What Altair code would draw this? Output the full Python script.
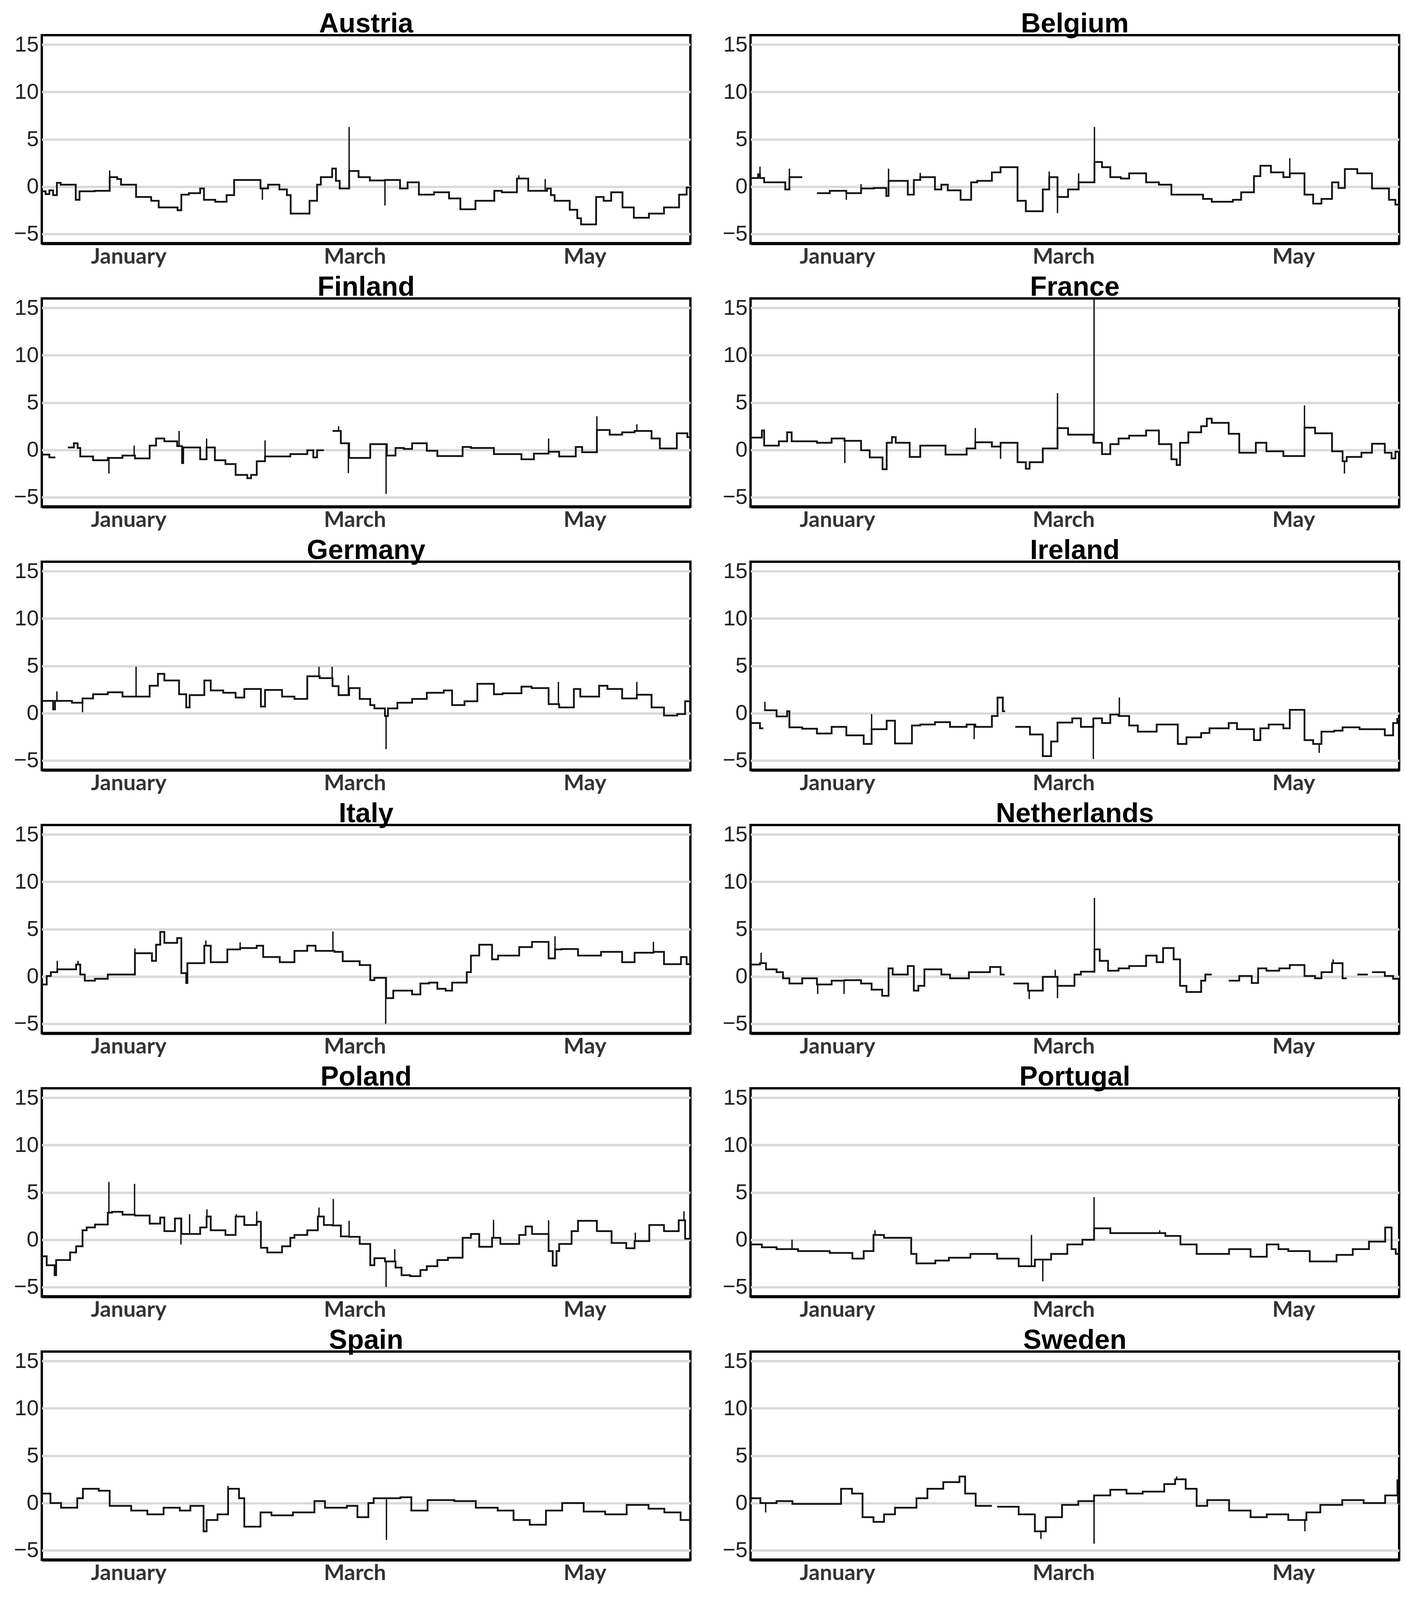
import altair as alt
import pandas as pd

BASE = pd.Timestamp("2019-12-09")
END_DAY = 172
COUNTRIES = ["Austria", "Belgium", "Finland", "France", "Germany", "Ireland",
             "Italy", "Netherlands", "Poland", "Portugal", "Spain", "Sweden"]
TICK_LABEL_DATES = [(2020, 1, 1), (2020, 3, 1), (2020, 5, 1)]
Y_TICKS = [-5, 0, 5, 10, 15]

# ---- Austria
AUSTRIA_DAYS = [0, 1, 2, 3, 4, 5, 9, 10, 14, 18, 20, 21, 25, 29, 31, 36, 37, 39, 42, 43, 46, 49, 51, 58,
                60, 63, 65, 66, 71, 73, 74, 77, 78, 79, 81.5, 84, 87, 91, 95, 97, 100, 104, 108, 111, 115,
                120, 122, 126, 129, 134, 135, 136, 140, 142, 143, 147, 149, 151, 154, 157, 161, 165, 169, 171]
AUSTRIA_VALS = [-0.5, -0.8, -0.4, -0.9, 0.4, 0.2, -1.4, -0.5, -0.45, 1.0, 0.8, 0.2, -1.1, -1.5, -2.2, -2.5,
                -0.85, -0.7, -0.2, -1.4, -1.6, -0.9, 0.7, -0.2, 0.2, -0.3, -0.9, -2.85, -1.5, 0.2, 1.0, 1.9,
                0.6, -0.2, 1.65, 1.0, 0.65, 0.7, -0.2, 0.45, -0.85, -0.6, -1.25, -2.4, -1.5, -0.45, -0.6,
                0.85, -0.45, -0.2, -0.9, -1.5, -2.45, -3.35, -4.0, -1.1, -1.5, -0.6, -2.2, -3.3, -2.85,
                -2.2, -0.85, -0.1]
AUSTRIA_SPIKE_DAYS = [18, 58.5, 81.5, 91, 126.5, 133.5]
AUSTRIA_SPIKE_VALS = [1.7, -1.4, 6.3, -2.0, 1.2, 0.8]

# ---- Belgium
BELGIUM_DAYS = [0, 2, 2.5, 3.6, 9.2, 10.3, 13.7, 17.6, 21, 25.4, 29.3, 32.7, 36, 36.6, 41.7, 43.3, 45, 48.9,
                50.6, 52.3, 55.7, 58.5, 60.1, 64, 66.3, 70.8, 73, 77.5, 79.2, 81.4, 84.2, 87, 91.2, 93.2,
                95.4, 98.2, 100.4, 104.9, 108.3, 111.6, 120, 122.3, 127.9, 130.1, 133.5, 135.2, 138, 141.3,
                143, 146.9, 149.2, 151.4, 154.2, 155.9, 157.6, 160.9, 164.8, 169.3, 171]
BELGIUM_VALS = [0.9, 1.3, 0.9, 0.45, -0.3, 1.0, None, -0.7, -0.45, -0.7, -0.2, -0.15, -1.0, 0.6, -0.85, 0.7,
                1.0, -0.3, 0.2, -0.4, -1.4, 0.45, 0.6, 1.5, 2.05, -1.5, -2.6, -0.3, 1.0, -1.1, -0.3, 0.45,
                2.6, 2.05, 1.0, 0.85, 1.4, 0.45, 0.2, -0.85, -1.3, -1.6, -1.4, -0.6, 1.1, 2.2, 1.5, 1.0,
                1.4, -0.85, -1.8, -1.3, 0.45, -0.15, 1.85, 1.4, -0.2, -1.4, -1.9]
BELGIUM_SPIKE_DAYS = [2.5, 10.3, 25.4, 29.3, 36.6, 45, 79.2, 81.4, 87, 91.2, 143]
BELGIUM_SPIKE_VALS = [2.1, 1.9, -1.4, 0.25, 1.9, 1.45, 1.6, -2.8, 1.4, 6.3, 3.0]

# ---- Finland
FINLAND_DAYS = [0, 2, 3.6, 6.9, 8.5, 9.5, 10.2, 13.6, 17.5, 21.4, 24.7, 28.6, 30.3, 32.5, 35.9, 37.2, 37.5,
                42, 43.7, 45.9, 48.7, 51.4, 54.5, 55.5, 57, 59.2, 65.9, 70.4, 72, 73, 74.8, 77.1, 79.3, 81.5,
                87.1, 91.5, 93.8, 96, 98.2, 102.1, 104.9, 111.6, 113.8, 119.9, 127.2, 130.5, 134.4, 137.2,
                141.6, 143.3, 147.2, 150.6, 153.9, 157.2, 161.7, 163.9, 168.4, 171.2]
FINLAND_VALS = [-0.5, -0.8, None, 0.25, 0.7, 0.2, -0.7, -1.1, -0.85, -0.6, -0.9, 0.45, 1.2, 0.9, 0.4, -1.4,
                0.25, -1.0, 0.25, -1.1, -1.5, -2.65, -3.0, -2.65, -1.2, -0.7, -0.45, -0.05, -0.8, -0.05,
                None, 2.0, 0.7, -0.85, 0.6, -0.6, 0.2, 0.1, 0.7, -0.1, -0.65, 0.3, 0.2, -0.45, -1.0, -0.4,
                -0.2, -0.7, 0.3, -0.25, 2.1, 1.6, 1.85, 2.0, 1.2, 0.15, 1.75, 1.35]
FINLAND_SPIKE_DAYS = [17.8, 24.5, 36.4, 43.7, 59.2, 78.7, 81.3, 91.3, 134.4, 147.2, 157.8]
FINLAND_SPIKE_VALS = [-2.5, 0.45, 2.0, 1.2, 1.0, 2.5, -2.45, -4.65, 1.2, 3.55, 2.7]

# ---- France
FRANCE_DAYS = [0, 3, 3.6, 7.5, 9.7, 10.9, 17.6, 21.5, 24.9, 29.3, 31.6, 35, 36.1, 37.5, 38.5, 42.2, 45, 51.7,
               57.3, 59.6, 64, 66.3, 70.8, 73, 74, 77.5, 81.4, 84.2, 90.9, 93.2, 95.4, 97.6, 100.4, 104.9,
               108.3, 111.6, 113, 113.9, 116.1, 119.5, 121, 122.3, 126.8, 129.6, 134, 136.8, 141.3, 146.9,
               149.7, 154.2, 157, 158.1, 162, 164.8, 168.2, 170, 171]
FRANCE_VALS = [1.3, 2.05, 0.45, 0.9, 1.85, 0.9, 0.75, 1.2, 0.95, -0.05, -0.8, -2.05, 0.75, 1.35, 0.75, -0.75,
               0.45, -0.5, 0.15, 0.8, 0.35, 0.75, -1.3, -2.0, -1.3, 0.15, 2.3, 1.6, 0.75, -0.45, 0.6, 1.2,
               1.5, 2.05, 0.6, -1.0, -1.6, 0.75, 1.85, 2.5, 3.3, 2.85, 1.7, -0.3, 0.75, -0.15, -0.65, 2.35,
               1.75, -0.15, -1.2, -0.75, -0.3, 0.65, -0.3, -0.9, -0.2]
FRANCE_SPIKE_DAYS = [25, 59.6, 66.3, 81.4, 91.1, 146.9, 157.5]
FRANCE_SPIKE_VALS = [-1.4, 2.3, -0.95, 6.0, 16.0, 4.7, -2.5]

# ---- Germany
GERMANY_DAYS = [0, 3, 3.5, 8, 10.8, 13.6, 17.5, 21.4, 28.6, 30.8, 32.5, 36.4, 38.3, 39.2, 43.1, 44.8, 48.1,
                51.4, 53.7, 58.1, 59.2, 63.7, 67, 70.4, 73.7, 77.1, 78.7, 81.5, 84.3, 87.1, 88.2, 91, 91.8,
                94.3, 98.2, 102.1, 106.6, 108.8, 112.1, 115.5, 119.9, 122.2, 127.2, 129.9, 134.4, 137.2,
                141.1, 142.8, 147.8, 150, 153.9, 157.8, 161.7, 165, 168.5, 170.6]
GERMANY_VALS = [1.3, 0.4, 1.3, 1.1, 1.55, 2.0, 2.2, 1.75, 2.9, 4.15, 3.45, 2.0, 0.6, 1.9, 3.45, 2.4, 2.15,
                1.65, 2.55, 0.7, 2.45, 1.75, 1.5, 3.9, 3.7, 2.85, 1.9, 2.65, 1.5, 0.85, 0.5, -0.3, 0.5, 1.1,
                1.5, 2.15, 2.4, 0.85, 1.25, 3.1, 2.0, 2.1, 2.8, 2.65, 0.95, 0.6, 2.55, 1.75, 2.9, 2.55,
                1.55, 1.95, 0.6, -0.25, -0.1, 1.25]
GERMANY_SPIKE_DAYS = [4, 10.8, 25, 73.5, 77, 81.3, 91.3, 137, 157.8]
GERMANY_SPIKE_VALS = [2.3, 0.1, 4.9, 4.9, 4.9, 4.0, -3.8, 3.3, 3.3]

# ---- Ireland
IRELAND_DAYS = [0, 2.5, 3.4, 3.6, 6.9, 9.7, 10.3, 13.7, 17.6, 21.5, 25.4, 30, 32.1, 36.1, 38.3, 42.8, 45,
                48.9, 52.9, 57.3, 59.6, 64, 65.5, 66.9, 67.5, 70.2, 74.1, 77.5, 79.7, 81.4, 85.3, 87.6,
                90.9, 93.2, 95.4, 97.6, 100.4, 102.7, 107.7, 113.3, 115.6, 119.5, 121.7, 126.8, 129, 133.5,
                135.2, 137.4, 141.3, 143, 146.9, 149.2, 151.4, 154.8, 157, 161.5, 168.2, 170.4, 171.5]
IRELAND_VALS = [-1.05, -1.6, None, 0.3, -0.35, 0.2, -1.5, -1.65, -2.15, -1.45, -2.35, -3.25, -1.7, -0.8,
                -3.2, -1.3, -1.2, -0.95, -1.45, -1.2, -1.45, -0.3, 1.65, 0.2, None, -1.45, -2.25, -4.55,
                -3.0, -1.0, -0.55, -1.45, -0.55, -1.05, -0.15, -0.3, -1.3, -1.95, -1.2, -3.25, -2.55, -2.1,
                -1.6, -1.05, -1.7, -2.85, -1.6, -1.2, -1.6, 0.35, -2.85, -3.25, -1.95, -1.85, -1.5, -1.7,
                -2.35, -1.05, -0.6]
IRELAND_SPIKE_DAYS = [3.8, 32.1, 59.3, 90.9, 97.8, 150.8]
IRELAND_SPIKE_VALS = [1.2, -0.1, -2.75, -4.85, 1.65, -4.2]

# ---- Italy
ITALY_DAYS = [0, 1.3, 2.4, 4.1, 9.1, 10.2, 11.4, 14.1, 17.5, 24.7, 29.2, 30.3, 31.4, 32.5, 35.9, 37, 38.3,
              38.6, 43.1, 44.8, 49.2, 52.6, 57, 58.7, 63.1, 67, 70.4, 72.6, 77.6, 79.8, 84.3, 87.1, 88.2,
              91.3, 93.2, 98.2, 100.4, 102.7, 104.9, 107.1, 108.8, 112.7, 113.8, 116, 119.4, 121, 126.6,
              130, 134.4, 136.1, 137.8, 142.2, 148.3, 153.9, 157.2, 162.2, 165, 169.5, 171]
ITALY_VALS = [-0.85, 0.05, 0.45, 0.75, 1.25, 0.2, -0.45, -0.25, 0.2, 2.45, 1.65, 3.35, 4.7, 3.55, 4.05, 0.35,
              -0.7, 1.4, 3.25, 1.5, 2.85, 3.0, 3.25, 2.05, 1.5, 2.7, 3.25, 2.7, 2.6, 1.6, 1.2, -0.4, -0.15,
              -2.3, -1.5, -1.9, -0.75, -0.65, -1.3, -1.5, -0.65, 0.45, 2.2, 3.35, 1.8, 2.2, 3.1, 3.65, 1.9,
              2.85, 2.9, 2.2, 2.6, 1.5, 2.5, 2.6, 1.3, 2.05, 1.3]
ITALY_SPIKE_DAYS = [4.1, 9.6, 24.7, 43.5, 52.6, 77.2, 91.2, 136.1, 162.2]
ITALY_SPIKE_VALS = [1.65, 1.65, 2.95, 3.8, 3.6, 4.75, -5.0, 4.25, 3.65]

# ---- Netherlands
NETHERLANDS_DAYS = [0, 2.5, 4.1, 6.9, 8.6, 10.3, 13.7, 17.6, 21.5, 24.9, 29.3, 32.1, 34.9, 36.6, 37.7, 41.7,
                    43.3, 44.5, 46.1, 50.6, 52.9, 57.9, 63.5, 66.3, 67.4, 69.7, 73.6, 77.5, 81.4, 85.9, 87.6,
                    91.2, 92.6, 94.8, 97.6, 100.4, 104.9, 107.7, 109.4, 112.2, 113.9, 115.6, 119.5, 120.6,
                    122.3, 126.8, 129.6, 132.9, 134.6, 136.8, 140.2, 143, 146.9, 149.7, 151.4, 154.2, 157,
                    158.1, 160.9, 163.7, 164.8, 168.2, 170.4]
NETHERLANDS_VALS = [1.25, 1.4, 0.75, 0.45, -0.2, -0.75, -0.2, -0.85, -0.45, -0.4, -0.75, -1.4, -2.05, 0.85,
                    0.2, 1.1, -1.5, -1.0, 0.75, 0.2, -0.2, 0.45, 1.0, 0.2, None, -0.75, -1.5, -0.05, -1.0,
                    0.2, 0.5, 2.85, 1.65, 0.6, 0.85, 1.1, 2.2, 1.5, 3.0, 1.8, -1.0, -1.65, -0.45, 0.2, None,
                    -0.45, 0.05, -0.7, 0.85, 0.6, 0.85, 1.2, 0.05, -0.2, 0.45, 1.4, -0.2, None, 0.2, None,
                    0.45, 0.05, -0.25]
NETHERLANDS_SPIKE_DAYS = [2.8, 17.8, 24.8, 73.9, 80.8, 81.4, 91.2, 154.5]
NETHERLANDS_SPIKE_VALS = [2.5, -1.85, -1.85, -2.4, 0.7, -2.3, 8.3, 1.8]

# ---- Poland
POLAND_DAYS = [0, 1.3, 3.4, 3.8, 7.5, 9.1, 10.8, 11.9, 14.1, 17.5, 18.6, 21.4, 24.7, 28.6, 31.4, 32.5, 35.3,
               37, 42, 43.7, 44.8, 48.7, 51.4, 53.7, 57, 58.1, 59.8, 63.7, 65.9, 67, 70.4, 73.2, 74.8, 77.1,
               79.3, 81.5, 84.3, 87.1, 88.2, 91, 93.8, 95.4, 97.7, 100.4, 102.1, 104.9, 107.7, 111.6, 113.8,
               116, 119.4, 121.6, 126.6, 128.3, 130, 134.4, 135.5, 136.5, 137.2, 140.5, 142.2, 147.2, 151.1,
               155, 157.2, 161.1, 165, 168.9, 170.6]
POLAND_VALS = [-1.75, -2.7, -3.75, -2.15, -1.35, -0.7, 1.0, 1.3, 1.6, 2.85, 2.95, 2.65, 2.55, 1.7, 2.35, 0.9,
               2.25, 0.6, 1.3, 2.45, 1.0, 0.5, 2.45, 1.55, 1.9, -0.85, -1.35, -0.7, 0.2, 0.5, 1.0, 2.45,
               1.55, 1.5, 0.35, 0.3, -0.45, -2.7, -1.95, -2.3, -2.95, -3.75, -3.85, -3.2, -2.8, -2.15, -1.9,
               0.2, 0.6, -0.75, 0.2, -0.45, 0.5, 1.4, 0.6, -1.2, -2.75, -1.2, -0.45, 0.9, 2.0, 0.9, -0.35,
               -0.9, -0.15, 1.55, 0.9, 2.05, 0.1]
POLAND_SPIKE_DAYS = [17.8, 24.6, 36.9, 39.2, 43.8, 51.6, 57, 73.5, 77.3, 81.5, 91.3, 93.6, 119.8, 134.4,
                     157.4, 170.3]
POLAND_SPIKE_VALS = [6.1, 5.9, -0.5, 2.7, 3.2, 2.7, 3.0, 3.4, 4.3, 2.0, -5.0, -1.0, 2.1, 2.05, 0.75, 3.0]

# ---- Portugal
PORTUGAL_DAYS = [0, 3, 6.9, 12.6, 21, 27, 30, 32.6, 35.4, 42.6, 44, 49, 52.6, 58.3, 65.4, 71.1, 75.4, 79.7,
                 84, 88, 91.1, 95.4, 108.3, 110, 114, 118.3, 126.9, 132.6, 136.9, 140, 142.6, 148.3, 155.4,
                 159.7, 164, 168.3, 170, 171.1]
PORTUGAL_VALS = [-0.5, -0.8, -1.0, -1.2, -1.4, -2.0, -1.2, 0.5, 0.2, -1.5, -2.5, -2.2, -1.9, -1.5, -2.0, -2.8,
                 -2.1, -1.5, -0.5, 0.0, 1.2, 0.7, 0.7, 0.4, -0.5, -1.5, -1.0, -1.8, -0.5, -1.0, -1.2, -2.3,
                 -1.6, -1.0, -0.2, 1.3, -1.0, -1.5]
PORTUGAL_SPIKE_DAYS = [11, 33, 74.5, 77.5, 91.1, 108.5]
PORTUGAL_SPIKE_VALS = [0.0, 1.0, 0.5, -4.4, 4.5, 1.0]

# ---- Spain
SPAIN_DAYS = [0, 2.3, 5.1, 9.4, 10.9, 15.1, 18, 23.7, 28, 32.3, 36.6, 39.4, 42.9, 43.7, 46.6, 49.4, 52.3,
              53.7, 58, 60.9, 66.6, 72.3, 75.1, 80.9, 83.7, 86.6, 88, 95.1, 98, 102.3, 109.4, 115.1, 120.9,
              125.1, 129.4, 133.7, 138, 143.7, 149.4, 155.1, 160.9, 165.1, 169.4]
SPAIN_VALS = [1.0, 0.0, -0.5, 0.5, 1.5, 1.3, -0.3, -0.8, -1.2, -0.5, -0.8, -0.3, -3.0, -1.8, -1.2, 1.5, 0.5,
              -2.5, -1.0, -1.3, -1.0, 0.2, -0.5, -0.3, -1.5, 0.0, 0.5, 0.6, -0.8, 0.3, 0.2, -0.5, -0.8, -1.8,
              -2.3, -0.8, 0.0, -0.9, -1.2, -0.2, -0.6, -1.0, -1.8]
SPAIN_SPIKE_DAYS = [49.4, 91.4]
SPAIN_SPIKE_VALS = [1.8, -3.9]

# ---- Sweden
SWEDEN_DAYS = [0, 2.6, 6.9, 11.1, 24, 26.9, 29.7, 32.6, 35.4, 38.3, 44, 46.9, 51.1, 55.4, 56.9, 59.7, 64,
               65.4, 71.1, 75.4, 78.3, 82.6, 86.9, 91.1, 95.4, 99.7, 104, 109.7, 112.6, 115.4, 118.3, 121.1,
               126.9, 132.6, 136.9, 142.6, 147.4, 151.1, 156.9, 162.6, 168.3, 171.7]
SWEDEN_VALS = [0.5, 0.0, 0.2, -0.1, 1.5, 1.0, -1.5, -2.0, -1.2, -0.5, 0.5, 1.5, 2.2, 2.8, 1.0, -0.3, None,
               -0.4, -1.2, -3.0, -1.5, -0.2, 0.2, 0.8, 1.4, 1.0, 1.2, 2.0, 2.5, 1.5, -0.3, 0.3, -0.8, -1.5,
               -1.2, -1.8, -1.0, -0.2, 0.3, 0.0, 0.8, 0.0]
SWEDEN_SPIKE_DAYS = [4, 77, 91.1, 113, 147, 171.5]
SWEDEN_SPIKE_VALS = [-1.0, -3.8, -4.3, 2.8, -3.0, 2.5]

SERIES = {
    "Austria": (AUSTRIA_DAYS, AUSTRIA_VALS, AUSTRIA_SPIKE_DAYS, AUSTRIA_SPIKE_VALS),
    "Belgium": (BELGIUM_DAYS, BELGIUM_VALS, BELGIUM_SPIKE_DAYS, BELGIUM_SPIKE_VALS),
    "Finland": (FINLAND_DAYS, FINLAND_VALS, FINLAND_SPIKE_DAYS, FINLAND_SPIKE_VALS),
    "France": (FRANCE_DAYS, FRANCE_VALS, FRANCE_SPIKE_DAYS, FRANCE_SPIKE_VALS),
    "Germany": (GERMANY_DAYS, GERMANY_VALS, GERMANY_SPIKE_DAYS, GERMANY_SPIKE_VALS),
    "Ireland": (IRELAND_DAYS, IRELAND_VALS, IRELAND_SPIKE_DAYS, IRELAND_SPIKE_VALS),
    "Italy": (ITALY_DAYS, ITALY_VALS, ITALY_SPIKE_DAYS, ITALY_SPIKE_VALS),
    "Netherlands": (NETHERLANDS_DAYS, NETHERLANDS_VALS, NETHERLANDS_SPIKE_DAYS, NETHERLANDS_SPIKE_VALS),
    "Poland": (POLAND_DAYS, POLAND_VALS, POLAND_SPIKE_DAYS, POLAND_SPIKE_VALS),
    "Portugal": (PORTUGAL_DAYS, PORTUGAL_VALS, PORTUGAL_SPIKE_DAYS, PORTUGAL_SPIKE_VALS),
    "Spain": (SPAIN_DAYS, SPAIN_VALS, SPAIN_SPIKE_DAYS, SPAIN_SPIKE_VALS),
    "Sweden": (SWEDEN_DAYS, SWEDEN_VALS, SWEDEN_SPIKE_DAYS, SWEDEN_SPIKE_VALS),
}


def to_date(d):
    return (BASE + pd.to_timedelta(d, unit="D")).strftime("%Y-%m-%dT%H:%M:%S")


def line_frame(days, vals):
    rows, prev, k = [], None, 0
    for d, v in zip(days, vals):
        if v is None:
            if prev is not None:
                rows.append({"date": to_date(d), "value": prev, "order": k}); k += 1
            rows.append({"date": to_date(d), "value": None, "order": k}); k += 1
            prev = None
        else:
            rows.append({"date": to_date(d), "value": v, "order": k}); k += 1
            prev = v
    if prev is not None:
        rows.append({"date": to_date(END_DAY), "value": prev, "order": k})
    return rows


def level_at(days, vals, d):
    lvl = None
    for dd, vv in zip(days, vals):
        if dd <= d:
            lvl = vv
        else:
            break
    if lvl is None:
        lvl = next(vv for dd, vv in zip(days, vals) if dd > d and vv is not None)
    return lvl


def spike_frame(days, vals, sdays, svals):
    return [{"date": to_date(d), "value": v, "base": level_at(days, vals, d)}
            for d, v in zip(sdays, svals)]


X_DOMAIN = [alt.DateTime(year=2019, month=12, date=9), alt.DateTime(year=2020, month=5, date=29)]
X_TICKS = [alt.DateTime(year=y, month=m, date=d) for (y, m, d) in TICK_LABEL_DATES]

LINE_COLOR = "#111111"


def panel(name):
    days, vals, sdays, svals = SERIES[name]
    x = alt.X("date:T", title=None,
              scale=alt.Scale(domain=X_DOMAIN),
              axis=alt.Axis(values=X_TICKS, format="%B", grid=False, ticks=False,
                            domain=True, domainColor="black", domainWidth=8,
                            labelFont="Lato", labelFontWeight="bold", labelFontSize=56,
                            labelColor="#333333", labelPadding=7, labelFlush=False,
                            labelLimit=600, minExtent=60, maxExtent=60))
    y = alt.Y("value:Q", title=None,
              scale=alt.Scale(domain=[-6, 16], nice=False, zero=False),
              axis=alt.Axis(values=Y_TICKS, grid=True, gridColor="#d9d9d9", gridWidth=6,
                            domain=False, ticks=False, labelFont="Liberation Sans",
                            labelFontSize=56, labelColor="#222222", labelPadding=8,
                            minExtent=96, maxExtent=96))
    line = alt.Chart(alt.Data(values=line_frame(days, vals))).mark_line(
        interpolate="step-after", color=LINE_COLOR, strokeWidth=4.5, clip=True
    ).encode(x=x, y=y, order=alt.Order("order:Q"))
    spikes = alt.Chart(alt.Data(values=spike_frame(days, vals, sdays, svals))).mark_rule(
        color=LINE_COLOR, strokeWidth=3.5, clip=True
    ).encode(x=alt.X("date:T", title=None), y=alt.Y("value:Q", title=None), y2="base:Q")
    return alt.layer(line, spikes).properties(
        width=1660, height=533,
        title=alt.TitleParams(text=name, font="Liberation Sans", fontSize=70, fontWeight="bold",
                              color="black", anchor="middle", offset=-12),
    )


rows = [alt.hconcat(panel(COUNTRIES[2 * i]), panel(COUNTRIES[2 * i + 1]), spacing=52)
        for i in range(6)]

chart = alt.vconcat(*rows, spacing=10).properties(
    padding={"left": 0, "top": 16, "right": 0, "bottom": 0}
).configure_view(stroke="black", strokeWidth=6)

chart.save("out.html", embed_options={"renderer": "svg", "actions": False})
